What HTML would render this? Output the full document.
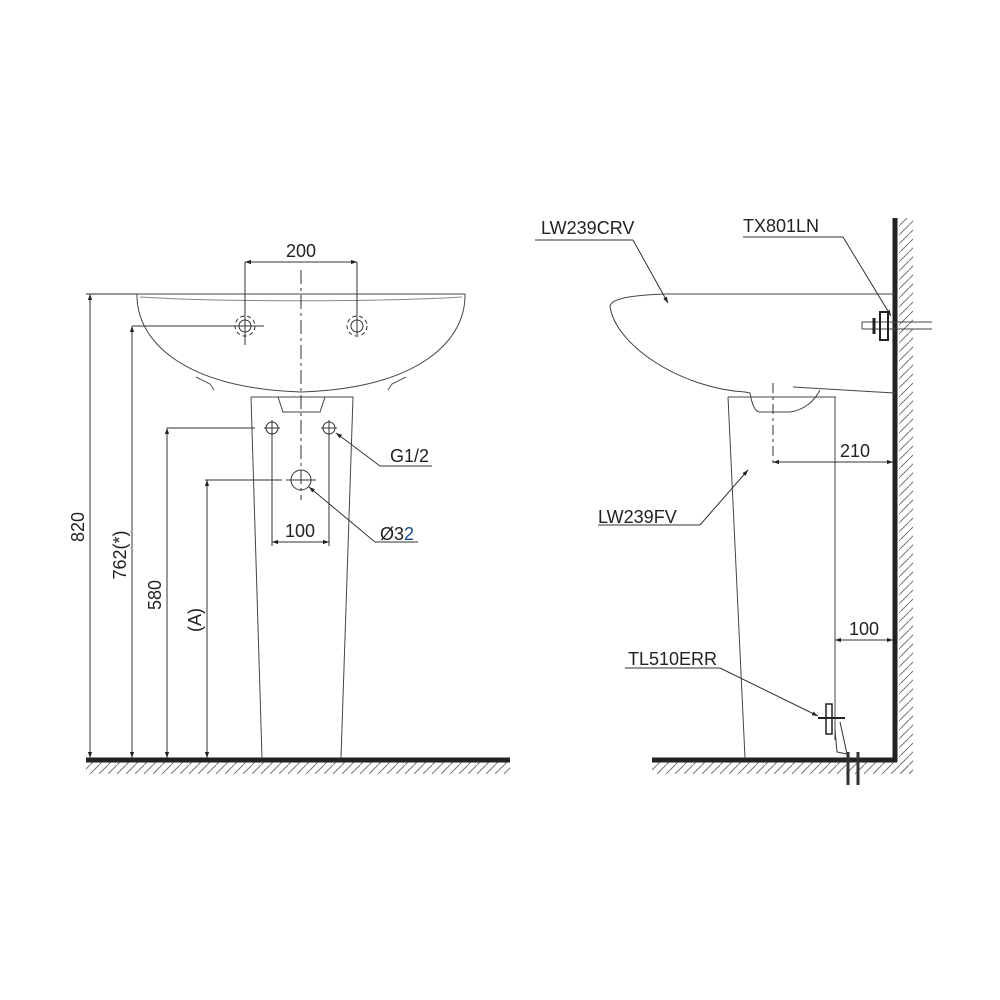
<!DOCTYPE html>
<html><head><meta charset="utf-8"><style>html,body{margin:0;padding:0;background:#fff}svg{display:block}text{font-family:"Liberation Sans",sans-serif;font-size:18px;fill:#222}</style></head>
<body>
<svg width="1000" height="1000" viewBox="0 0 1000 1000" xmlns="http://www.w3.org/2000/svg">
<defs>
<pattern id="h" width="9" height="9" patternUnits="userSpaceOnUse">
<line x1="0" y1="9" x2="9" y2="0" stroke="#777" stroke-width="1"/>
</pattern>
<marker id="a" viewBox="0 0 10 10" refX="10" refY="5" markerWidth="12" markerHeight="6" orient="auto-start-reverse" markerUnits="userSpaceOnUse"><path d="M0,1.5 L10,5 L0,8.5 Z" fill="#222"/></marker>
</defs>
<g stroke="#333" stroke-width="1" fill="none">
<rect x="86" y="762" width="424" height="12" fill="url(#h)" stroke="none"/>
<line x1="86" y1="760" x2="510" y2="760" stroke="#222" stroke-width="5"/>
<path d="M137,294 L465,294 C466,340 420,388 301,392 C182,388 136,340 137,294 Z" stroke="#444"/>
<path d="M140,297 C220,302 380,302 462,297" stroke="#888"/>
<path d="M196,377 L210,384 L214,390 M406,377 L392,384 L388,390" stroke="#555"/>
<circle cx="245" cy="326" r="10" stroke-dasharray="4,3"/><circle cx="245" cy="326" r="6"/>
<circle cx="357" cy="326" r="10" stroke-dasharray="4,3"/><circle cx="357" cy="326" r="6"/>
<line x1="245" y1="262" x2="245" y2="345"/><line x1="357" y1="262" x2="357" y2="335"/>
<line x1="132" y1="326" x2="264" y2="326"/>
<line x1="245" y1="262" x2="357" y2="262" marker-start="url(#a)" marker-end="url(#a)"/>
<path d="M251,397 L353,397 L341,758 M251,397 L262,758" stroke="#444"/>
<path d="M278,397 L283,412 L320,412 L325,397" stroke="#444"/>
<line x1="301" y1="270" x2="301" y2="500" stroke-dasharray="14,4,3,4"/>
<circle cx="272" cy="428" r="6"/><circle cx="329" cy="428" r="6"/>
<line x1="264" y1="428" x2="280" y2="428"/><line x1="321" y1="428" x2="337" y2="428"/>
<circle cx="301" cy="480" r="10"/>
<line x1="286" y1="480" x2="316" y2="480"/>
<line x1="272" y1="420" x2="272" y2="546"/><line x1="329" y1="420" x2="329" y2="546"/>
<line x1="272" y1="542" x2="329" y2="542" marker-start="url(#a)" marker-end="url(#a)"/>
<line x1="167" y1="428" x2="255" y2="428"/>
<line x1="205" y1="480" x2="282" y2="480"/>
<line x1="86" y1="294" x2="137" y2="294"/>
<line x1="90" y1="294" x2="90" y2="758" marker-start="url(#a)" marker-end="url(#a)"/>
<line x1="132" y1="326" x2="132" y2="758" marker-start="url(#a)" marker-end="url(#a)"/>
<line x1="167" y1="428" x2="167" y2="758" marker-start="url(#a)" marker-end="url(#a)"/>
<line x1="207" y1="480" x2="207" y2="758" marker-start="url(#a)" marker-end="url(#a)"/>
<polyline points="380,466 432,466"/><line x1="380" y1="466" x2="336" y2="433" marker-end="url(#a)"/>
<polyline points="375,542 418,542"/><line x1="375" y1="542" x2="309" y2="487" marker-end="url(#a)"/>

<rect x="899" y="218" width="14" height="556" fill="url(#h)" stroke="none"/>
<rect x="652" y="762" width="260" height="12" fill="url(#h)" stroke="none"/>
<line x1="895" y1="218" x2="895" y2="762" stroke="#222" stroke-width="5"/>
<line x1="652" y1="760" x2="897" y2="760" stroke="#222" stroke-width="5"/>
<path d="M895,294 L665,294 C640,295 612,297 610,306 C615,345 680,388 745,392 L750,393 C752,405 755,412 760,412 L790,412 C805,410 815,400 820,390" stroke="#444"/>
<path d="M793,387 L895,393" stroke="#444"/>
<path d="M728,397 L836,397 M728,397 L745,758 M835,397 L835,740" stroke="#444"/>
<line x1="773" y1="383" x2="773" y2="466" stroke-dasharray="10,4,3,4"/>
<line x1="773" y1="462" x2="893" y2="462" marker-start="url(#a)" marker-end="url(#a)"/>
<line x1="835" y1="640" x2="893" y2="640" marker-start="url(#a)" marker-end="url(#a)"/>
<path d="M862,322 L932,322 M862,329 L932,329 M862,322 L862,329" stroke="#444"/>
<path d="M880,312 L880,340 L888,340 L888,312 Z" stroke="#222" stroke-width="2"/>
<path d="M874,318 L874,334" stroke="#222" stroke-width="3"/>
<rect x="826" y="704" width="6" height="30" stroke="#222" stroke-width="1.5"/>
<line x1="818" y1="718" x2="845" y2="718" stroke="#222" stroke-width="2"/>
<path d="M835,730 L837,752 L847,754 L840,722"/>
<line x1="848" y1="752" x2="848" y2="785" stroke="#333" stroke-width="3"/>
<line x1="858" y1="752" x2="858" y2="785" stroke="#333" stroke-width="3"/>
<polyline points="535,240 633,240"/><line x1="633" y1="240" x2="668" y2="303" marker-end="url(#a)"/>
<polyline points="743,237 843,237"/><line x1="843" y1="237" x2="891" y2="316" marker-end="url(#a)"/>
<polyline points="598,525 700,525"/><line x1="700" y1="525" x2="748" y2="470" marker-end="url(#a)"/>
<polyline points="625,668 720,668"/><line x1="720" y1="668" x2="818" y2="716" marker-end="url(#a)"/>
</g>
<g>
<text x="301" y="257" text-anchor="middle">200</text>
<text x="390" y="462">G1/2</text>
<text x="300" y="537" text-anchor="middle">100</text>
<text x="380" y="540">Ø3<tspan fill="#1a4a8a">2</tspan></text>
<text transform="translate(84,527) rotate(-90)" text-anchor="middle">820</text>
<text transform="translate(126,555) rotate(-90)" text-anchor="middle">762(*)</text>
<text transform="translate(161,595) rotate(-90)" text-anchor="middle">580</text>
<text transform="translate(201,620) rotate(-90)" text-anchor="middle">(A)</text>
<text x="541" y="234">LW239CRV</text>
<text x="743" y="232">TX801LN</text>
<text x="855" y="457" text-anchor="middle">210</text>
<text x="598" y="523">LW239FV</text>
<text x="864" y="635" text-anchor="middle">100</text>
<text x="628" y="665">TL510ERR</text>
</g>
</svg>
</body></html>
